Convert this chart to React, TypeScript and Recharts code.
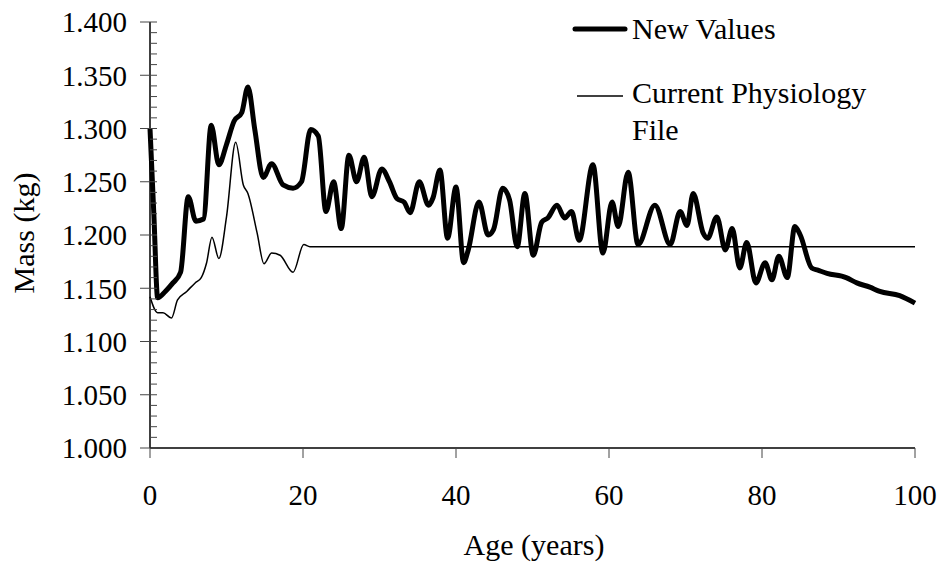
import React from 'react';
import { LineChart, Line, XAxis, YAxis, Legend } from 'recharts';

// New Values (thick line): age in years, mass in kg
const newAges = [
  0, 0.5, 1, 2, 3, 4, 5, 6, 7, 8, 9, 10, 11, 12, 12.8, 13.7, 14.8, 15.9, 17.4, 18.7,
  19.8, 21, 22, 23, 24, 25, 26, 27, 28, 29, 30.3, 31.3, 32.3, 33.2, 34, 35.2, 36.4, 37,
  37.9, 38.9, 40, 41, 41.6, 43, 44.2, 44.9, 46.1, 47, 48, 49, 50.1, 51.2, 52, 53.2, 54.2,
  55.1, 56.1, 57.9, 59.2, 60.4, 61.2, 62.5, 63.8, 66, 68, 69.3, 70.2, 71, 72.3, 72.9,
  74.1, 75.2, 76.1, 77.1, 78, 79.2, 80.4, 81.3, 82.2, 83.3, 84.3, 85, 86.5, 87.3, 88.5,
  91, 92.4, 94.1, 95.4, 98, 100,
];
const newMass = [
  1.3, 1.22, 1.141, 1.147, 1.155, 1.165, 1.236, 1.213, 1.215, 1.303, 1.266, 1.285, 1.307,
  1.315, 1.339, 1.299, 1.254, 1.267, 1.247, 1.244, 1.25, 1.299, 1.293, 1.222, 1.25, 1.206,
  1.275, 1.25, 1.273, 1.236, 1.262, 1.25, 1.234, 1.231, 1.221, 1.25, 1.228, 1.235, 1.261,
  1.197, 1.245, 1.174, 1.186, 1.231, 1.2, 1.205, 1.244, 1.233, 1.189, 1.239, 1.181, 1.212,
  1.216, 1.228, 1.216, 1.222, 1.195, 1.266, 1.183, 1.231, 1.208, 1.259, 1.191, 1.228,
  1.191, 1.222, 1.209, 1.239, 1.202, 1.197, 1.217, 1.186, 1.206, 1.169, 1.193, 1.155,
  1.174, 1.158, 1.18, 1.16, 1.208, 1.2, 1.169, 1.167, 1.164, 1.16, 1.155, 1.151, 1.147,
  1.143, 1.136,
];

// Current Physiology File (thin line)
const curAges = [
  0, 1, 1.7, 2.8, 3.6, 4.8, 5.9, 6.7, 7.4, 8.1, 9, 10, 11.2, 12.2, 12.8, 14, 14.9, 15.9,
  17, 18.7, 20.1, 20.9, 100,
];
const curMass = [
  1.142, 1.127, 1.127, 1.122, 1.139, 1.147, 1.155, 1.16, 1.174, 1.198, 1.178, 1.217, 1.287,
  1.247, 1.239, 1.202, 1.173, 1.183, 1.181, 1.165, 1.191, 1.189, 1.189,
];

const xTicks = [0, 20, 40, 60, 80, 100];
const yMajor = [1.0, 1.05, 1.1, 1.15, 1.2, 1.25, 1.3, 1.35, 1.4];
// minor ticks: 5 steps in every major interval
const yTicks: number[] = [];
yMajor.forEach((v, i) => {
  yTicks.push(v);
  if (i < yMajor.length - 1) {
    for (let k = 1; k < 5; k++) yTicks.push(Number((v + k * 0.01).toFixed(2)));
  }
});

const newData = newAges.map((age, i) => ({ age, mass: newMass[i] }));
const curData = curAges.map((age, i) => ({ age, mass: curMass[i] }));

const FONT = 'Liberation Serif, Tinos, Times New Roman, DejaVu Serif, serif';

const YTick = (props: any) => {
  const { x, y, payload } = props;
  const v = payload.value as number;
  const major = Math.round(v * 1000) % 50 === 0;
  const ax = x + 23; // axis line position
  return (
    <g>
      <line x1={major ? ax - 10 : ax} x2={ax + 7} y1={y} y2={y} stroke="#444" strokeWidth={1} />
      {major && (
        <text x={x} y={y} dy="0.355em" textAnchor="end" style={{ fontFamily: FONT }} fontSize={29} fill="#000">
          {v.toFixed(3)}
        </text>
      )}
    </g>
  );
};

const LegendBox = () => (
  <div style={{ position: 'relative', width: 945, height: 0, fontFamily: FONT, fontSize: 30, lineHeight: '37px', color: '#000' }}>
    <svg style={{ position: 'absolute', left: 570, top: 19 }} width={60} height={20}>
      <line x1={5} x2={55} y1={10} y2={10} stroke="#000" strokeWidth={5} strokeLinecap="round" />
    </svg>
    <div style={{ position: 'absolute', left: 632, top: 10, whiteSpace: 'nowrap' }}>New Values</div>
    <svg style={{ position: 'absolute', left: 572, top: 86 }} width={56} height={20}>
      <line x1={5} x2={51} y1={10} y2={10} stroke="#000" strokeWidth={1.5} />
    </svg>
    <div style={{ position: 'absolute', left: 632, top: 74, width: 245 }}>Current Physiology File</div>
  </div>
);

export default function App() {
  return (
    <div style={{ position: 'absolute', left: 0, top: 0, background: '#fff', fontFamily: FONT }}>
      <LineChart width={945} height={572} margin={{ top: 22, right: 30, bottom: 0, left: 0 }} style={{ fontFamily: FONT }}>
        <XAxis
          type="number"
          dataKey="age"
          domain={[0, 100]}
          ticks={xTicks}
          interval={0}
          allowDuplicatedCategory={false}
          height={124}
          tickSize={10}
          tickMargin={26}
          axisLine={{ stroke: '#000', strokeWidth: 1.5 }}
          tickLine={{ stroke: '#444' }}
          tick={{ style: { fontFamily: FONT }, fontSize: 29, fill: '#000' }}
          label={{
            content: () => (
              <text x={534} y={555} textAnchor="middle" style={{ fontFamily: FONT }} fontSize={30} fill="#000">
                Age (years)
              </text>
            ),
          }}
        />
        <YAxis
          type="number"
          domain={[1.0, 1.4]}
          ticks={yTicks}
          interval={0}
          width={150}
          tickSize={10}
          tickMargin={13}
          axisLine={{ stroke: '#000', strokeWidth: 1.5 }}
          tickLine={false}
          tick={<YTick />}
          label={{
            content: () => (
              <text
                x={23}
                y={233}
                dy="0.355em"
                transform="rotate(-90 23 233)"
                textAnchor="middle"
                style={{ fontFamily: FONT }}
                fontSize={30}
                fill="#000"
              >
                Mass (kg)
              </text>
            ),
          }}
        />
        <Legend
          layout="vertical"
          align="center"
          verticalAlign="middle"
          wrapperStyle={{ position: 'absolute', left: 0, top: 0, width: 945, height: 0 }}
          content={() => <LegendBox />}
        />
        <Line
          data={curData}
          dataKey="mass"
          name="Current Physiology File"
          type="monotone"
          stroke="#000"
          strokeWidth={1.5}
          dot={false}
          activeDot={false}
          isAnimationActive={false}
        />
        <Line
          data={newData}
          dataKey="mass"
          name="New Values"
          type="monotone"
          stroke="#000"
          strokeWidth={5}
          strokeLinejoin="round"
          dot={false}
          activeDot={false}
          isAnimationActive={false}
        />
      </LineChart>
    </div>
  );
}
